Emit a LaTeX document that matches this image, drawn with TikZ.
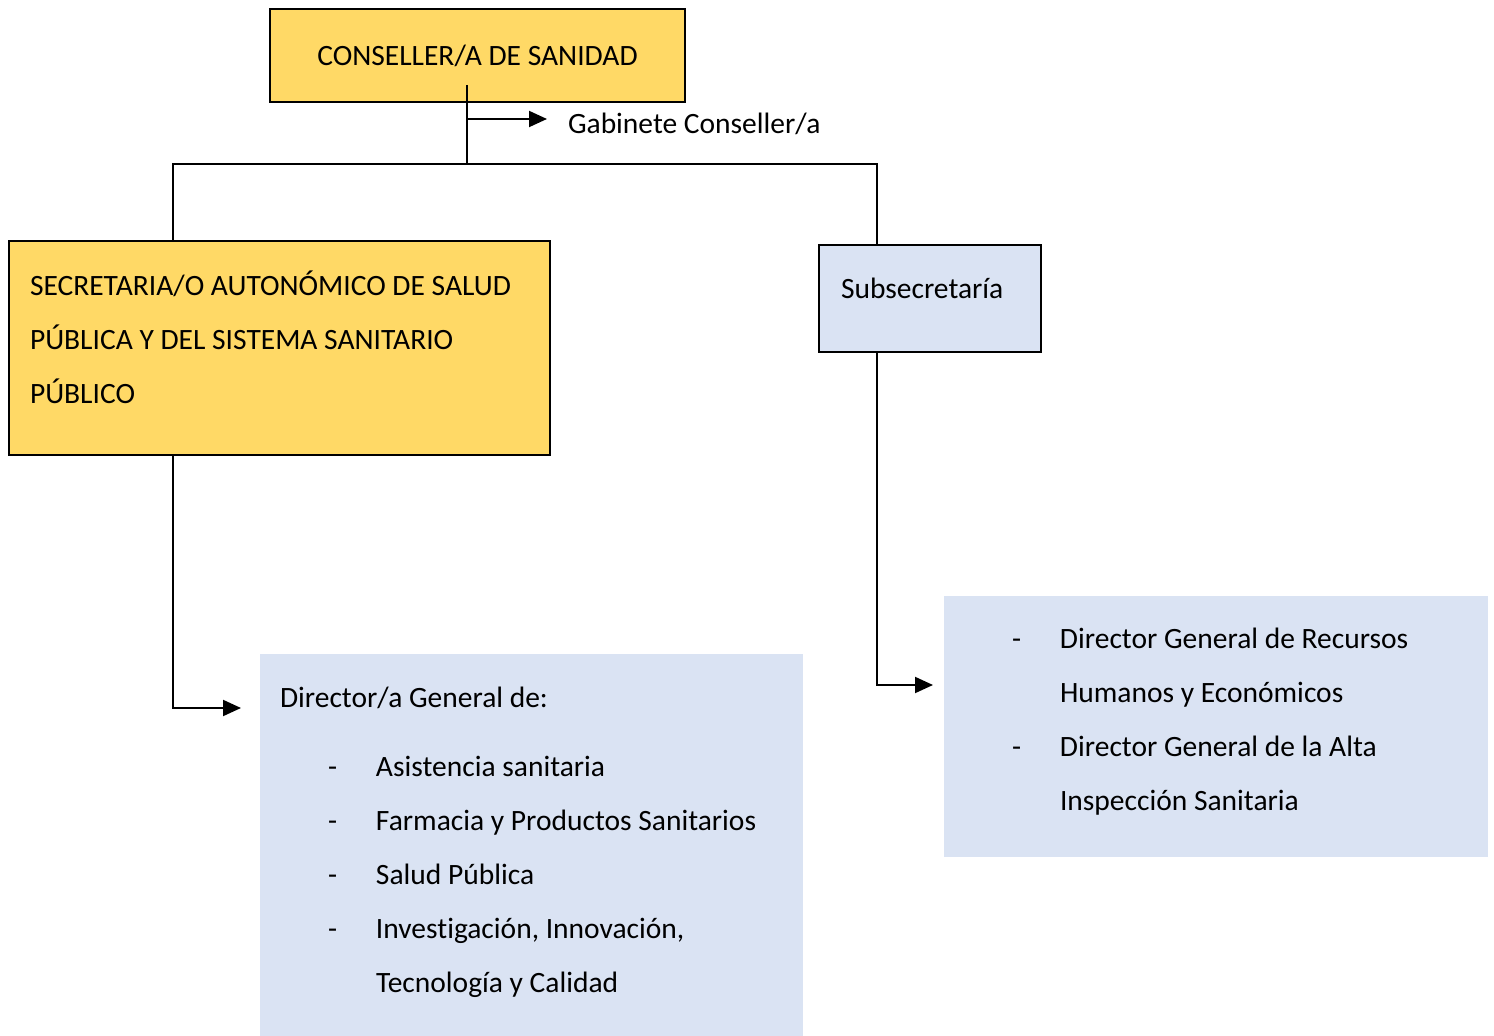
\documentclass[tikz,border=0pt]{standalone}
\usepackage{fontspec}
\setmainfont{Carlito}[Ligatures=NoCommon]
\usetikzlibrary{arrows.meta}
\definecolor{oro}{HTML}{FFD966}
\definecolor{celeste}{HTML}{DAE3F3}
\begin{document}
\begin{tikzpicture}[>={Triangle[length=9pt,width=8pt]},x=0.5pt,y=-0.5pt,line width=1pt,
	every node/.style={font=\fontsize{14.75}{27}\selectfont},
	cargo/.style={draw,fill=oro,anchor=north west,inner sep=0pt},
	unidad/.style={fill=celeste,anchor=north west,inner sep=0pt},
	texto/.style={anchor=north west,align=left,inner sep=0pt}]
		\useasboundingbox (0,0) rectangle (1494,1036);
		% cajas
		\node[cargo,minimum width=207.5pt,minimum height=46.5pt] (conseller) at (269,8) {CONSELLER/A DE SANIDAD};
		\node[cargo,minimum width=270.5pt,minimum height=107pt] (secretaria) at (8,240) {};
		\node[texto] (secretariatxt) at (29,257) {\strut SECRETARIA/O AUTONÓMICO DE SALUD\\PÚBLICA Y DEL SISTEMA SANITARIO\\PÚBLICO};
		\node[unidad,draw,minimum width=111pt,minimum height=53.5pt] (subsecretaria) at (818,244) {};
		\node[texto] (subsecretariatxt) at (840,260) {\strut Subsecretaría};
		\node[unidad,minimum width=271.5pt,minimum height=191.5pt] (dirsan) at (259,653) {};
		\node[texto] (dirsantxt) at (279,669) {\strut Director/a General de:\\[7.5pt]
			\hspace*{24pt}\makebox[24pt][l]{-}Asistencia sanitaria\\
			\hspace*{24pt}\makebox[24pt][l]{-}Farmacia y Productos Sanitarios\\
			\hspace*{24pt}\makebox[24pt][l]{-}Salud Pública\\
			\hspace*{24pt}\makebox[24pt][l]{-}Investigación, Innovación,\\
			\hspace*{48pt}Tecnología y Calidad};
		\node[unidad,minimum width=272pt,minimum height=130.5pt] (dirrec) at (943,595) {};
		\node[texto] (dirrectxt) at (1011,610) {\strut\makebox[24pt][l]{-}Director General de Recursos\\
			\hspace*{24pt}Humanos y Económicos\\
			\makebox[24pt][l]{-}Director General de la Alta\\
			\hspace*{24pt}Inspección Sanitaria};
		\node[texto] (gabinete) at (567,95) {\strut Gabinete Conseller/a};
		% conectores
		\coordinate (tronco) at (467,85);
		\coordinate (split) at (467,164);
		\coordinate (izq) at (173,164);
		\coordinate (der) at (877,164);
		\coordinate (gabflecha) at (547,119);
		\coordinate (codoizq) at (173,708);
		\coordinate (flechaizq) at (241,708);
		\coordinate (cododer) at (877,685);
		\coordinate (flechader) at (933,685);
		\draw (tronco) -- (split);
		\draw[->] (gabflecha -| split) -- (gabflecha);
		\draw (izq |- secretaria.north) -- (izq) -- (der) -- (der |- subsecretaria.north);
		\draw[->] (izq |- secretaria.south) -- (codoizq) -- (flechaizq);
		\draw[->] (der |- subsecretaria.south) -- (cododer) -- (flechader);
\end{tikzpicture}
\end{document}
